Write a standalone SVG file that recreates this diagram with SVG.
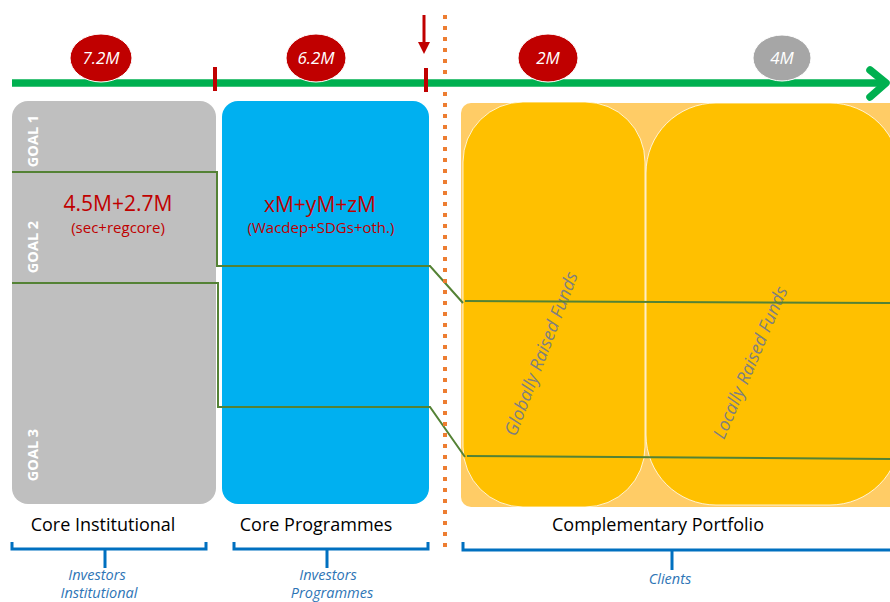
<svg xmlns="http://www.w3.org/2000/svg" width="890" height="602" viewBox="0 0 890 602">
<style>
text{font-family:"Open Sans","Liberation Sans",sans-serif}
.goal{fill:#fff;font-weight:bold;font-size:14.5px;text-anchor:middle}
.big{fill:#c00000;font-size:21px;text-anchor:middle}
.sub{fill:#c00000;font-size:15px;text-anchor:middle}
.cap{fill:#000;font-size:18px;text-anchor:middle}
.inv{fill:#2e75b6;font-size:14.5px;font-style:italic;text-anchor:middle}
.ell{fill:#fff;font-size:17px;font-style:italic;text-anchor:middle}
.rot{fill:#7f7f7f;font-size:18px;font-style:italic;text-anchor:middle}
.gl{fill:none;stroke:#548235;stroke-width:2}
.brace{fill:none;stroke:#0070c0;stroke-width:3}
</style>
<defs>
<marker id="redhead" markerWidth="12" markerHeight="12" refX="6" refY="0" orient="auto" markerUnits="userSpaceOnUse" viewBox="0 -6 12 12">
<path d="M0,-6 L12,0 L0,6 z" fill="#c00000"/>
</marker>
</defs>
<rect width="890" height="602" fill="#fff"/>

<g id="complementary-bg">
<rect x="461" y="103" width="440" height="404" rx="10" fill="#ffcc66"/>
</g>
<g id="globally">
<rect x="463" y="102" width="182" height="405" rx="60" fill="#ffc000" stroke="#fff" stroke-width="0.8"/>
<text class="rot" transform="translate(547,356) rotate(-69)">Globally Raised Funds</text>
</g>
<g id="locally">
<rect x="646" y="103" width="254" height="402" rx="70" fill="#ffc000" stroke="#fff" stroke-width="0.8"/>
<text class="rot" transform="translate(756,365) rotate(-67)">Locally Raised Funds</text>
</g>

<g id="core-institutional">
<rect x="12" y="101" width="204" height="403" rx="16" fill="#bfbfbf"/>
<text class="goal" transform="translate(38,141) rotate(-90)">GOAL 1</text>
<text class="goal" transform="translate(38,247) rotate(-90)">GOAL 2</text>
<text class="goal" transform="translate(38,455) rotate(-90)">GOAL 3</text>
<text class="big" x="118" y="211">4.5M+2.7M</text>
<text class="sub" x="118" y="233">(sec+regcore)</text>
</g>

<g id="core-programmes">
<rect x="222" y="101" width="207" height="403" rx="16" fill="#00b0f0"/>
<text class="big" x="320" y="212">xM+yM+zM</text>
<text class="sub" x="321" y="233">(Wacdep+SDGs+oth.)</text>
</g>

<g id="connectors">
<polyline class="gl" points="12,172 217,172 217,266 430,266 463,303"/>
<line class="gl" x1="465" y1="301" x2="890" y2="303"/>
<polyline class="gl" points="12,283 218,283 218,407 430,407 465,457"/>
<line class="gl" x1="467" y1="456" x2="890" y2="459"/>
</g>

<g id="divider">
<line x1="445" y1="15" x2="445" y2="550" stroke="#ed7d31" stroke-width="4" stroke-dasharray="4 7"/>
</g>

<g id="timeline">
<line x1="12" y1="83" x2="884" y2="83" stroke="#00b050" stroke-width="7.5"/>
<polyline points="870,70 886,83 870,97" fill="none" stroke="#00b050" stroke-width="7.5" stroke-linecap="round" stroke-linejoin="round"/>
<line x1="215" y1="67" x2="215" y2="91" stroke="#c00000" stroke-width="4"/>
<line x1="426" y1="68" x2="426" y2="92" stroke="#c00000" stroke-width="4"/>
<line x1="424" y1="15" x2="424" y2="48" stroke="#c00000" stroke-width="3" marker-end="url(#redhead)"/>
</g>

<g id="m72">
<ellipse cx="101" cy="58" rx="31" ry="24" fill="#c00000" stroke="#fff" stroke-width="1"/>
<text class="ell" x="101" y="64">7.2M</text>
</g>
<g id="m62">
<ellipse cx="316" cy="58" rx="30" ry="24" fill="#c00000" stroke="#fff" stroke-width="1"/>
<text class="ell" x="316" y="64">6.2M</text>
</g>
<g id="m2">
<ellipse cx="548" cy="58" rx="30" ry="24" fill="#c00000" stroke="#fff" stroke-width="1"/>
<text class="ell" x="548" y="64">2M</text>
</g>
<g id="m4">
<ellipse cx="782" cy="58" rx="29" ry="23" fill="#a6a6a6" stroke="#fff" stroke-width="1"/>
<text class="ell" x="782" y="64">4M</text>
</g>

<g id="label-core-institutional">
<text class="cap" x="103" y="531">Core Institutional</text>
<path class="brace" d="M12,542 V549 H206 V542 M105,549 V568"/>
<text class="inv" x="97" y="580">Investors</text>
<text class="inv" x="99" y="598">Institutional</text>
</g>
<g id="label-core-programmes">
<text class="cap" x="316" y="531">Core Programmes</text>
<path class="brace" d="M234,542 V549 H428 V542 M327,549 V568"/>
<text class="inv" x="328" y="580">Investors</text>
<text class="inv" x="332" y="598">Programmes</text>
</g>
<g id="label-complementary">
<text class="cap" x="658" y="531">Complementary Portfolio</text>
<path class="brace" d="M463,542 V550 H892 M672,550 V570"/>
<text class="inv" x="670" y="584">Clients</text>
</g>
</svg>
